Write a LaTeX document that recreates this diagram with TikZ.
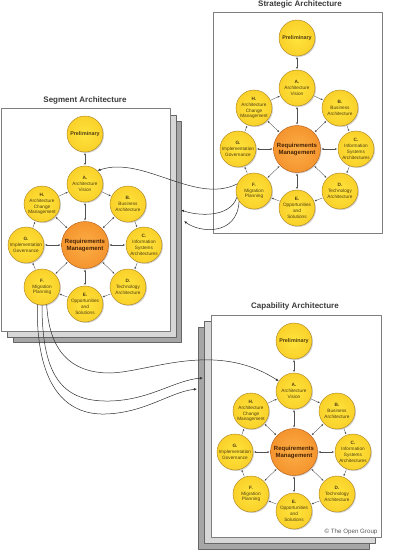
\documentclass[tikz,border=0pt]{standalone}
\usepackage{fontspec}
\setmainfont{Liberation Sans}
\usetikzlibrary{arrows.meta, shadows}

\definecolor{phaseinner}{HTML}{FFE43C}
\definecolor{phaseouter}{HTML}{F0B10C}
\definecolor{phaserim}{HTML}{A9801C}
\definecolor{reqinner}{HTML}{FCAE45}
\definecolor{reqouter}{HTML}{EA7010}
\definecolor{reqrim}{HTML}{B05A16}
\definecolor{phasetext}{HTML}{4F3C10}
\definecolor{reqtext}{HTML}{452206}
\definecolor{wheelgray}{HTML}{505050}
\definecolor{flowgray}{HTML}{2E2E2E}
\definecolor{panelrim}{HTML}{7E7E7E}
\definecolor{sheetlight}{HTML}{D7D7D7}
\definecolor{sheetdark}{HTML}{A6A6A6}
\definecolor{sheetrim}{HTML}{666666}
\definecolor{titlegray}{HTML}{3A3A3A}

\pgfdeclareradialshading{phaseball}{\pgfpoint{0bp}{0bp}}{color(0bp)=(phaseinner); color(30bp)=(phaseinner!55!phaseouter); color(50bp)=(phaseouter)}
\pgfdeclareradialshading{reqball}{\pgfpoint{0bp}{0bp}}{color(0bp)=(reqinner); color(30bp)=(reqinner!50!reqouter); color(50bp)=(reqouter)}

\begin{document}
\begin{tikzpicture}[x=1pt, y=-1pt, line join=round, line cap=round,
  phase/.style={circle, draw=phaserim, line width=0.4pt, shade, shading=phaseball,
    minimum size=36pt, inner sep=0pt, align=center, text=phasetext,
    font=\fontsize{4.7}{5.8}\selectfont,
    drop shadow={shadow xshift=1pt, shadow yshift=-1pt, opacity=0.35}},
  reqphase/.style={phase, shading=reqball, draw=reqrim, minimum size=47pt,
    text=reqtext, font=\bfseries\fontsize{6}{7}\selectfont},
  prelimphase/.style={phase, font=\bfseries\fontsize{5.4}{6}\selectfont},
  cyclearrow/.style={draw=wheelgray, line width=0.35pt, shorten <=0.6pt, shorten >=0.6pt,
    -{Latex[length=2.2pt, width=1.8pt]}},
  linkarrow/.style={cyclearrow, {Latex[length=2.2pt, width=1.8pt]}-{Latex[length=2.2pt, width=1.8pt]}},
  sheet/.style={draw=panelrim, fill=white, line width=0.6pt},
  backsheet/.style={draw=sheetrim, line width=0.5pt},
  title/.style={font=\bfseries\fontsize{8}{9}\selectfont, text=titlegray},
  flow/.style={draw=flowgray, line width=0.5pt, -{Latex[length=3pt, width=2.4pt]}}
]
\useasboundingbox (0,0) rectangle (400,550);

% Strategic panel, a single sheet
\draw[sheet] (213,12) rectangle (382,233);

% Segment panel with two sheets behind it
\draw[backsheet, fill=sheetdark] (13,121) rectangle (181,342);
\draw[backsheet, fill=sheetlight] (7,115) rectangle (176,337);
\draw[sheet] (1,108) rectangle (170,331);

% Capability panel, sheets stacked to the lower left
\draw[backsheet, fill=sheetdark] (198,327) rectangle (369,549);
\draw[backsheet, fill=sheetlight] (204,321) rectangle (375,543);
\draw[sheet] (211,315) rectangle (381,537);

% Panel titles
\node[title] (st-title) at (300,4) {Strategic Architecture};
\node[title] (sg-title) at (85,100) {Segment Architecture};
\node[title] (cp-title) at (295,306) {Capability Architecture};

% One wheel of phases in each panel
\foreach \w/\cx/\cy in {st/297/149, sg/85/245, cp/294/452}{
  \begin{scope}[shift={(\cx,\cy)}]
    \node[reqphase] (\w-R) at (0,0) {Requirements\\Management};
    \node[prelimphase] (\w-P) at (0,-111) {Preliminary};
    \foreach \p/\px/\py/\txt in {
        A/0/-61/{Architecture\\Vision},
        B/43/-41/{Business\\Architecture},
        C/59/0/{Information\\Systems\\Architectures},
        D/43/42/{Technology\\Architecture},
        E/0/59/{Opportunities\\and\\Solutions},
        F/-43/42/{Migration\\Planning},
        G/-59/0/{Implementation\\Governance},
        H/-43/-41/{Architecture\\Change\\Management}}
      \node[phase] (\w-\p) at (\px,\py) {\textbf{\p.}\\\txt};
    \draw[linkarrow] (\w-P) -- (\w-A);
    \foreach \p in {A,B,C,D,E,F,G,H}
      \draw[linkarrow] (\w-R) -- (\w-\p);
    \foreach \a/\b in {A/B, B/C, C/D, D/E, E/F, F/G, G/H, H/A}
      \draw[cyclearrow] (\w-\a) -- (\w-\b);
  \end{scope}
}

% Strategic migration planning feeds the segment level
\coordinate (sg-in1) at (181,210);
\coordinate (sg-in2) at (184,221);
\draw[flow] (st-F.157) .. controls (195,205) and (143,155) .. (sg-A.47);
\draw[flow] (st-F.200) .. controls (230,218) and (198,216) .. (sg-in1);
\draw[flow] (st-F.215) .. controls (237,236) and (200,233) .. (sg-in2);

% Segment migration planning feeds the capability level
\coordinate (cp-in1) at (203,378);
\coordinate (cp-in2) at (197,389);
\draw[flow] (sg-F.285) .. controls (49,350) and (70,373) .. (110,373)
  .. controls (150,372) and (215,340) .. (cp-A.147);
\draw[flow] (sg-F.270) .. controls (42,380) and (65,402) .. (110,401)
  .. controls (150,400) and (175,380) .. (cp-in1);
\draw[flow] (sg-F.255) .. controls (36,385) and (65,415) .. (105,414)
  .. controls (145,413) and (170,392) .. (cp-in2);

\node[font=\fontsize{6.2}{7}\selectfont, text=black!65] (cp-copy) at (351,532) {© The Open Group};
\end{tikzpicture}
\end{document}
